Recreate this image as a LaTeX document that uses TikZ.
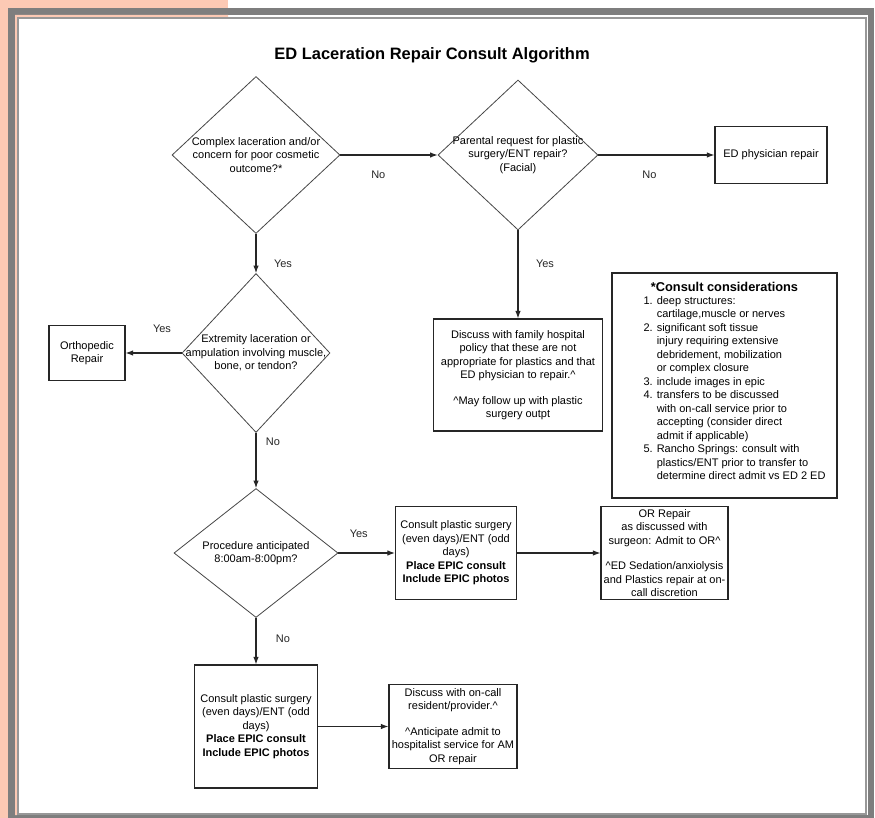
\documentclass[tikz,border=0pt]{standalone}
\usepackage{fontspec}
\setmainfont{Liberation Sans}
\usepackage{tikz}
\usetikzlibrary{shapes.geometric, positioning, arrows.meta}

\definecolor{peach}{RGB}{252,201,180}
\definecolor{framegray}{RGB}{126,126,126}
\definecolor{inkgray}{RGB}{70,70,70}

\begin{document}
\begin{tikzpicture}[>={Latex[length=7.5pt,width=5.5pt]}, x=1pt, y=1pt, font=\fontsize{11}{13.5}\selectfont,
    decision/.style={diamond, draw=inkgray, line width=0.8pt, inner sep=0pt},
    qtext/.style={align=center, inner sep=0pt},
    block/.style={rectangle, draw=black!85, line width=1.2pt, align=center, inner sep=1pt},
    lbl/.style={inner sep=0pt}]
    % page and frame
    \useasboundingbox (0,0) rectangle (875,-818);
    \fill[peach] (0,0) rectangle (228,-818);
    \fill[framegray] (8,-8) rectangle (874,-818);
    \fill[white] (15,-15) rectangle (868,-815);
    \fill[peach] (15,-15) rectangle (228,-17) (15,-15) rectangle (17,-815);
    \draw[framegray!80, line width=1.8pt] (18,-18) rectangle (866,-814);

    \node[font=\fontsize{16.5}{20}\selectfont\bfseries] (title) at (432,-55) {ED Laceration Repair Consult Algorithm};

    \node[decision, minimum width=168pt, minimum height=157pt] (d1) at (256,-155) {};
    \node[decision, minimum width=160pt, minimum height=150pt] (d2) [right of=d1, node distance=262pt] {};
    \node[block, minimum width=112pt, minimum height=57pt] (edrep) [right of=d2, node distance=253pt] {ED physician repair};
    \node[decision, minimum width=148pt, minimum height=159pt] (d3) [below of=d1, node distance=198pt] {};
    \node[block, minimum width=76pt, minimum height=55pt] (ortho) [left of=d3, node distance=169pt] {Orthopedic\\Repair};
    \node[block, minimum width=169pt, minimum height=112pt] (family) [below of=d2, node distance=220pt] {Discuss with family hospital\\policy that these are not\\appropriate for plastics and that\\ED physician to repair.\textasciicircum\\[12pt]\textasciicircum May follow up with plastic\\surgery outpt};
    \node[block, minimum width=225pt, minimum height=225pt] (consider) at (724.5,-385.5) {{\fontsize{12.8}{15}\selectfont\bfseries *Consult considerations}\\[2pt]
        \hspace*{20pt}\begin{tabular}{@{}r@{ }l@{}}
        1.& deep structures:\\
          & cartilage,muscle or nerves\\
        2.& significant soft tissue\\
          & injury requiring extensive\\
          & debridement, mobilization\\
          & or complex closure\\
        3.& include images in epic\\
        4.& transfers to be discussed\\
          & with on-call service prior to\\
          & accepting (consider direct\\
          & admit if applicable)\\
        5.& Rancho Springs: consult with\\
          & plastics/ENT prior to transfer to\\
          & determine direct admit vs ED 2 ED
        \end{tabular}\\[4pt]\mbox{}};
    \node[decision, minimum width=164pt, minimum height=129pt] (d4) [below of=d3, node distance=200pt] {};
    \node[block, minimum width=121pt, minimum height=93pt] (cons1) [right of=d4, node distance=200pt] {Consult plastic surgery\\(even days)/ENT (odd\\days)\\\textbf{Place EPIC consult}\\\textbf{Include EPIC photos}};
    \node[block, minimum width=127pt, minimum height=93pt] (orrep) [right of=cons1, node distance=208.5pt] {OR Repair\\as discussed with\\surgeon: Admit to OR\textasciicircum\\[12pt]\textasciicircum ED Sedation/anxiolysis\\and Plastics repair at on-\\call discretion};
    \node[block, minimum width=123pt, minimum height=123pt] (cons2) [below of=d4, node distance=173.5pt] {Consult plastic surgery\\(even days)/ENT (odd\\days)\\\textbf{Place EPIC consult}\\\textbf{Include EPIC photos}};
    \node[block, minimum width=128pt, minimum height=84pt] (discuss) [right of=cons2, node distance=197pt] {Discuss with on-call\\resident/provider.\textasciicircum\\[12pt]\textasciicircum Anticipate admit to\\hospitalist service for AM\\OR repair};

    % question texts
    \node[qtext] (d1txt) at (d1) {Complex laceration and/or\\concern for poor cosmetic\\outcome?*};
    \node[qtext] (d2txt) at (d2) {Parental request for plastic\\surgery/ENT repair?\\(Facial)};
    \node[qtext] (d3txt) at (d3) {Extremity laceration or\\ampulation involving muscle,\\bone, or tendon?};
    \node[qtext] (d4txt) at (d4) {Procedure anticipated\\8:00am-8:00pm?};

    \path[->, black!85, line width=1.1pt]
    (d1) edge node[lbl, pos=0.39, yshift=-20pt] {No} (d2)
    (d2) edge node[lbl, pos=0.44, yshift=-20pt] {No} (edrep)
    (d1) edge node[lbl, pos=0.75, xshift=27pt] {Yes} (d3)
    (d2) edge node[lbl, pos=0.38, xshift=27pt] {Yes} (family)
    (d3) edge node[lbl, pos=0.35, yshift=24pt] {Yes} (ortho)
    (d3) edge node[lbl, pos=0.16, xshift=17pt] {No} (d4)
    (d4) edge node[lbl, pos=0.36, yshift=19pt] {Yes} (cons1)
    (d4) edge node[lbl, pos=0.44, xshift=27pt] {No} (cons2)
    (cons1) edge (orrep)
    (cons2) edge (discuss);
\end{tikzpicture}
\end{document}
